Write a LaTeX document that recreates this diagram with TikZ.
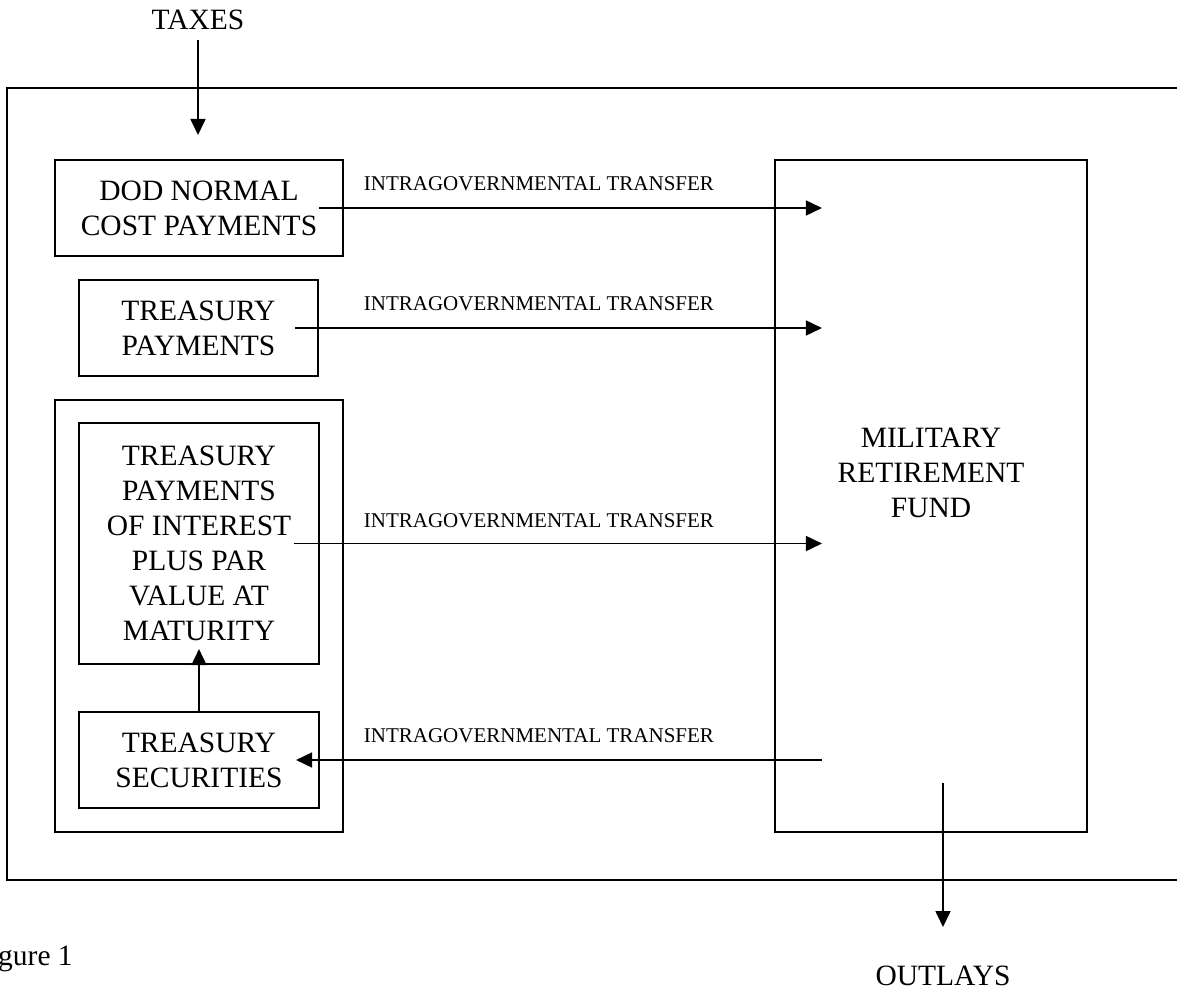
\documentclass[tikz,border=0pt]{standalone}
\usepackage{fontspec}
\setmainfont{Liberation Serif}
\usetikzlibrary{arrows.meta,calc}
\begin{document}
\begin{tikzpicture}[x=1pt,y=-1pt,
  boxtext/.style={font=\fontsize{29.5}{35}\selectfont, align=center},
  boxnode/.style={draw, line width=2.1pt, inner sep=0pt, boxtext},
  flow/.style={line width=1.7pt, -{Triangle[length=16pt,width=15pt]}},
  lbl/.style={font=\fontsize{21}{24}\selectfont, inner sep=0pt},
  framestyle/.style={line width=2.1pt}]
\useasboundingbox (0,0) rectangle (1177,992);

% outer frame (open to the right)
\coordinate (ftr) at (1177,88);
\coordinate (fbl) at (7,880);
\coordinate (fbr) at (1177,880);
\draw[framestyle] (ftr) -| (fbl) -- (fbr);

% boxes
\node[boxnode, minimum width=288pt, minimum height=96pt] (dod) at (199,208) {DOD NORMAL\\COST PAYMENTS};
\node[boxnode, minimum width=239pt, minimum height=96pt] (tp) at (198.5,328) {TREASURY\\PAYMENTS};
\node[boxnode, minimum width=288pt, minimum height=432pt] (grp) at (199,616) {};
\node[boxnode, minimum width=240pt, minimum height=241pt] (tpi) at (199,543.5) {TREASURY\\PAYMENTS\\OF INTEREST\\PLUS PAR\\VALUE AT\\MATURITY};
\node[boxnode, minimum width=240pt, minimum height=96pt] (sec) at (199,760) {TREASURY\\SECURITIES};
\node[boxnode, minimum width=312pt, minimum height=672pt] (mrf) at (931,496) {};
\node[boxtext, inner sep=0pt] (mrftext) at (931,473) {MILITARY\\RETIREMENT\\FUND};

% taxes and outlays
\node[boxtext, inner sep=0pt] (taxes) at (198,20) {TAXES};
\coordinate (taxstart) at (198,40);
\coordinate (taxtip) at (198,135);
\draw[flow] (taxstart) -- (taxtip);

\node[boxtext, inner sep=0pt] (outlays) at (943,976) {OUTLAYS};
\coordinate (outstart) at (943,783);
\coordinate (outtip) at (943,927);
\draw[flow] (outstart) -- (outtip);

% transfers
\draw[flow] ($(dod.east)+(-25,0)$) -- ($(mrf.west |- dod.east)+(48,0)$);
\draw[flow] ($(tp.east)+(-24,0)$) -- ($(mrf.west |- tp.east)+(48,0)$);
\draw[flow] ($(tpi.east)+(-26,0)$) -- ($(mrf.west |- tpi.east)+(48,0)$);
\draw[flow] ($(mrf.west |- sec.east)+(48,0)$) -- ($(sec.east)+(-24,0)$);
\draw[flow] (sec.north) -- ($(tpi.south)+(0,-16)$);

\node[lbl] (l1) at ($(mrf.west |- dod.east)+(-235,-24)$) {INTRAGOVERNMENTAL TRANSFER};
\node[lbl] (l2) at ($(mrf.west |- tp.east)+(-235,-24)$) {INTRAGOVERNMENTAL TRANSFER};
\node[lbl] (l3) at ($(mrf.west |- tpi.east)+(-235,-23)$) {INTRAGOVERNMENTAL TRANSFER};
\node[lbl] (l4) at ($(mrf.west |- sec.east)+(-235,-24)$) {INTRAGOVERNMENTAL TRANSFER};

% caption
\node[boxtext, inner sep=0pt, anchor=base west] (fig) at (-2,965) {gure 1};
\end{tikzpicture}
\end{document}
